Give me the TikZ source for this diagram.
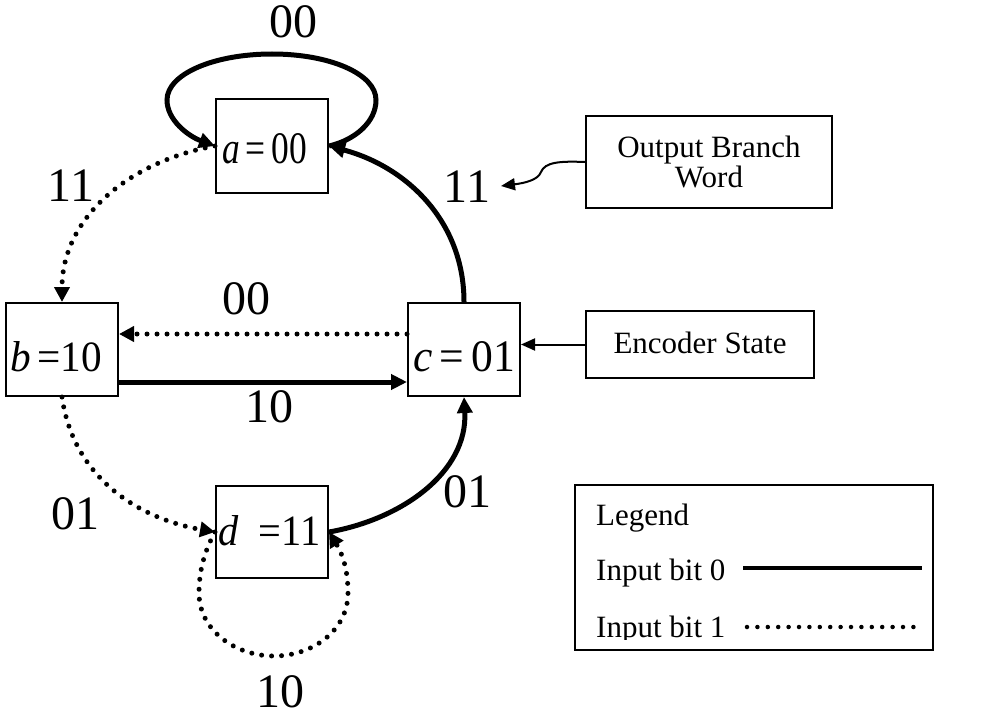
\documentclass[tikz,border=0pt]{standalone}
\usepackage{fontspec}
\setmainfont{Liberation Serif}
\usetikzlibrary{arrows.meta}
\newcommand{\boxlab}[2]{\resizebox{#1}{30pt}{\fontsize{44}{44}\selectfont #2}}
\tikzset{
  statebox/.style={draw, line width=2pt, inner sep=0pt, minimum width=112pt},
  infobox/.style={draw, line width=2pt, inner sep=0pt, align=center, font=\fontsize{31}{30}\selectfont},
  solidarr/.style={line width=5pt, -{Triangle[length=16pt,width=15pt]}},
  dotarr/.style={line width=5pt, line cap=round, dash pattern=on 0pt off 10pt, -{Triangle[length=15pt,width=15pt]}},
  thinarr/.style={line width=2pt, -{Triangle[length=14pt,width=12pt]}},
  biglab/.style={font=\fontsize{48}{50}\selectfont, inner sep=0pt},
  txt/.style={font=\fontsize{31}{34}\selectfont, inner sep=0pt, anchor=base west},
}
\begin{document}
\begin{tikzpicture}[x=1pt,y=-1pt]
\useasboundingbox (0,0) rectangle (995,717);
% state boxes
\node[statebox, minimum height=94pt] (a) at (272,146) {};
\node[statebox, minimum height=93pt] (b) at (62,349.5) {};
\node[statebox, minimum height=93pt] (c) at (464,349.5) {};
\node[statebox, minimum height=92pt] (d) at (272,532) {};
% state labels
\node[anchor=base west, inner sep=0pt] (alab) at (222,163) {\boxlab{85pt}{\itshape a\upshape\,=\,00}};
\node[anchor=base west, inner sep=0pt] (blab) at (10,371) {\boxlab{92pt}{\itshape b\upshape\,=10}};
\node[anchor=base west, inner sep=0pt] (clab) at (413,371) {\boxlab{102pt}{\itshape c\upshape\,=\,01}};
\node[anchor=base west, inner sep=0pt] (dlab) at (218,545) {\boxlab{102pt}{\itshape d\upshape\ \ =11}};
% info boxes
\node[infobox, minimum width=246pt, minimum height=92pt] (obw) at (709,162) {Output Branch\\Word};
\node[infobox, minimum width=228pt, minimum height=67pt, text depth=3pt] (enc) at (700,344.5) {Encoder State};
\node[draw, line width=2pt, minimum width=358pt, minimum height=165pt, inner sep=0pt] (legend) at (754,567.5) {};
% legend contents
\node[txt] (lg) at (596,525) {Legend};
\node[txt] (l0) at (596,580) {Input bit 0};
\begin{scope}
  \clip (580,480) rectangle (930,639);
  \node[txt] (l1) at (596,637) {Input bit 1};
\end{scope}
\draw[line width=4.5pt] (743,568) -- (922,568);
\draw[line width=4.5pt, line cap=round, dash pattern=on 0pt off 10.4pt] (747,627) -- (922,627);
% transitions
\draw[solidarr] (a.east) .. controls (355,140) and (376,122) .. (376,100)
   .. controls (376,74) and (330,54) .. (272,54)
   .. controls (214,54) and (167,74) .. (167,100)
   .. controls (167,120) and (188,136) .. (a.west);
\draw[solidarr] (c.north) to[out=90,in=-15] (a.east);
\draw[dotarr] (a.west) to[out=190,in=90] (b.north);
\draw[dotarr] ([yshift=15.5pt]c.west) -- ([yshift=15.5pt]b.east);
\draw[solidarr] ([yshift=-32.5pt]b.east) -- ([yshift=-32.5pt]c.west);
\draw[dotarr] (b.south) to[out=-82,in=170] (d.west);
\draw[solidarr] (d.east) to[out=10,in=-87] (c.south);
\draw[dotarr] (d.west) .. controls (205,550) and (199,570) .. (199,593)
   .. controls (199,630) and (235,656) .. (274,656)
   .. controls (313,656) and (348,630) .. (348,593)
   .. controls (348,565) and (340,550) .. (d.east);
% pointer arrows
\coordinate (tip) at (501,186);
\draw[thinarr] (obw.west) .. controls (560,161) and (545,162) .. (541,172) .. controls (538,180) and (525,183) .. (tip);
\draw[thinarr] (enc.west) -- (c.east |- enc.west);
% branch labels
\node[biglab] (t00) at (293,22) {00};
\node[biglab] (t11l) at (71,186) {11};
\node[biglab] (t11r) at (467,187) {11};
\node[biglab] (t00m) at (246,299) {00};
\node[biglab] (t10m) at (269,407) {10};
\node[biglab] (t01l) at (75,514) {01};
\node[biglab] (t01r) at (467,492) {01};
\node[biglab] (t10b) at (280,692) {10};
\end{tikzpicture}
\end{document}
